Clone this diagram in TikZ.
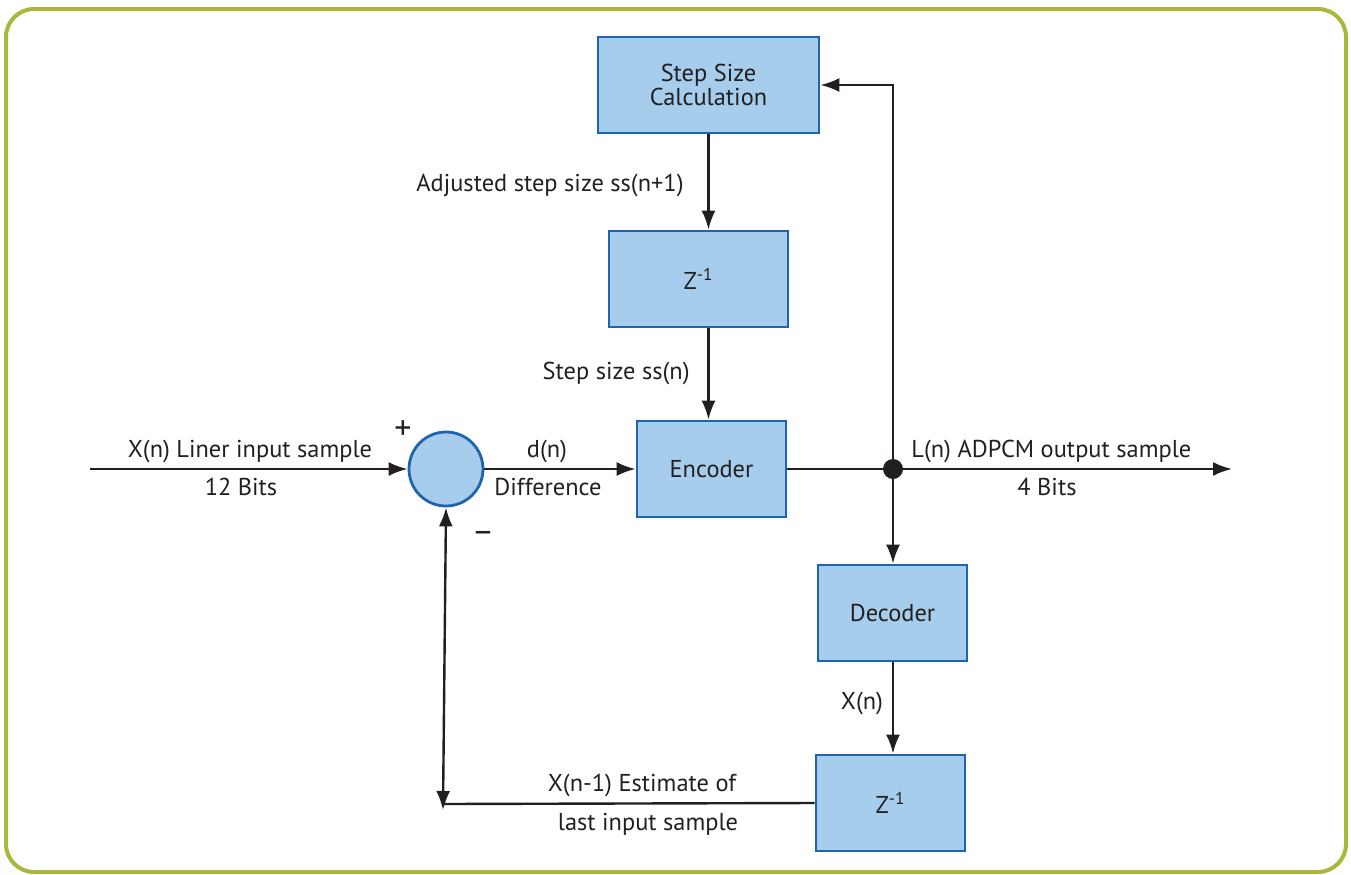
\documentclass[tikz,border=0pt]{standalone}
\usepackage{fontspec}
\setmainfont{PT Sans}
\usetikzlibrary{arrows.meta}
\definecolor{boxfill}{HTML}{A6CDEB}
\definecolor{boxline}{HTML}{1F64AF}
\definecolor{frameline}{HTML}{A9B73A}
\definecolor{wire}{HTML}{231F20}
\tikzset{
  blk/.style={draw=boxline, fill=boxfill, line width=1.4pt, inner sep=0pt, align=center, font=\fontsize{12.2}{14}\selectfont, text=wire},
  conn/.style={draw=wire, line width=1.2pt},
  arr/.style={conn, -{Latex[length=9.5pt,width=7pt]}},
  lbl/.style={font=\fontsize{12.2}{14}\selectfont, text=wire, inner sep=0pt},
}
\begin{document}
\begin{tikzpicture}[x=0.5pt,y=-0.5pt]
\useasboundingbox (0,0) rectangle (1351,874);
\draw[frameline, line width=2pt, rounded corners=14pt] (6,9) rectangle (1346,872);
% blocks
\node[blk, minimum width=110.5pt, minimum height=48pt] (step) at (708.5,85) {Step Size\\[-2pt]Calculation};
\node[blk, minimum width=89.5pt, minimum height=48pt] (z1) at (698.5,279) {Z\textsuperscript{-1}};
\node[blk, minimum width=74.5pt, minimum height=48pt] (enc) at (711.5,469) {Encoder};
\node[blk, minimum width=74.5pt, minimum height=48pt] (dec) at (892.5,613) {Decoder};
\node[blk, minimum width=74.5pt, minimum height=48pt] (z2) at (890.5,803) {Z\textsuperscript{-1}};
\node[draw=boxline, fill=boxfill, line width=1.4pt, circle, minimum size=37pt, inner sep=0pt] (sum) at (446,469) {};
% junction
\coordinate (j) at (893,469);
\coordinate (in) at (90,469);
\coordinate (out) at (1232,469);
\coordinate (top) at (893,85);
\coordinate (corner) at (443,804);
\coordinate (cornerb) at (443,810);
% connectors
\draw[arr] (in) -- (sum.west);
\draw[arr] (sum.east) -- (enc.west);
\draw[arr] (enc.east) -- (out);
\draw[arr] (j) -- (top) -- (step.east);
\draw[arr] (j) -- (j |- dec.north);
\draw[arr] (step.south) -- (step.south |- z1.north);
\draw[arr] (z1.south -| step.south) -- (enc.north -| step.south);
\draw[arr] (dec.south -| j) -- (z2.north -| j);
\draw[conn] (z2.west) -- (corner);
\draw[conn, {Latex[length=9.5pt,width=7pt]}-{Latex[length=9.5pt,width=7pt]}] (cornerb) -- (sum.south);
\fill[wire] (j) circle (5pt);
% labels
\node[lbl, anchor=east] (l1) at (684,185) {Adjusted step size ss(n+1)};
\node[lbl, anchor=east] (l2) at (690,373) {Step size ss(n)};
\node[lbl] (l3) at (250,451) {X(n) Liner input sample};
\node[lbl] (l4) at (241,487) {12 Bits};
\node[lbl, font=\fontsize{17}{17}\selectfont] (l5) at (403,430) {+};
\node[lbl, font=\fontsize{17}{17}\selectfont] (l6) at (483,537) {–};
\node[lbl] (l7) at (547,451) {d(n)};
\node[lbl] (l8) at (548,487) {Difference};
\node[lbl, anchor=west] (l9) at (911,451) {L(n) ADPCM output sample};
\node[lbl] (l10) at (1047,487) {4 Bits};
\node[lbl] (l11) at (862,703) {X(n)};
\node[lbl] (l12) at (642,785) {X(n-1) Estimate of};
\node[lbl] (l13) at (648,824) {last input sample};
\end{tikzpicture}
\end{document}
